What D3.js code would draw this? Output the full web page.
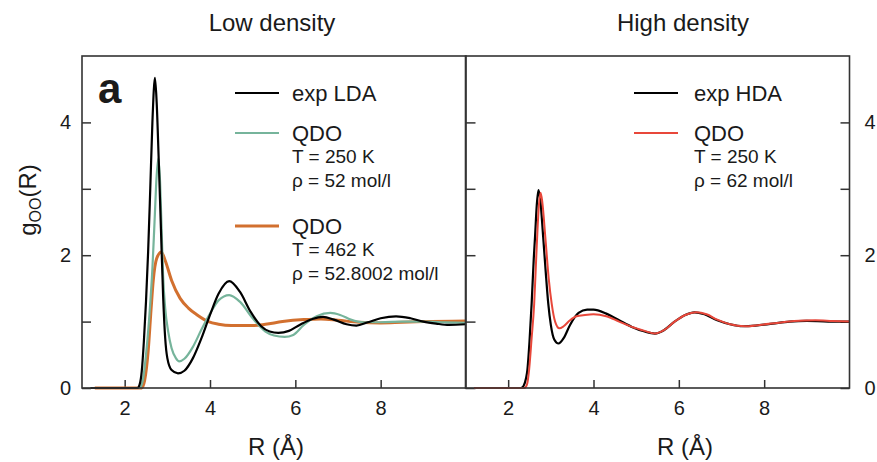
<!DOCTYPE html>
<html><head><meta charset="utf-8">
<script src="https://cdn.jsdelivr.net/npm/d3@7"></script>
<style>
body{margin:0;background:#fff;}
text{font-family:"Liberation Sans",Arial,Helvetica,sans-serif;fill:#1a1a1a;}
</style></head>
<body><svg id="c" width="877" height="462"></svg>
<script>
// ---- data ----
const panelTitles = ["Low density", "High density"];
const xTickValues = [2, 4, 6, 8];
const yTickValues = [0, 1, 2, 3, 4];
const yTickLabels = [0, 2, 4];

// Low density: experimental LDA
const ldaR = [1.2,2.3,2.35,2.4,2.45,2.5,2.55,2.6,2.65,2.71,2.75,2.8,2.85,2.9,2.95,3.0,3.1,3.25,3.4,3.6,3.8,4.0,4.2,4.45,4.7,4.95,5.2,5.4,5.6,5.85,6.1,6.4,6.65,6.9,7.2,7.43,7.7,8.0,8.36,8.7,9.0,9.3,9.6,10];
const ldaG = [0,0,0.05,0.25,0.7,1.3,2.05,3.0,4.0,4.67,4.3,3.4,2.4,1.4,0.75,0.45,0.27,0.22,0.26,0.45,0.75,1.1,1.42,1.61,1.45,1.15,0.93,0.85,0.83,0.86,0.95,1.04,1.07,1.03,0.96,0.94,0.99,1.05,1.08,1.05,1.0,0.97,0.95,0.96];
// Low density: QDO T=250 K, 52 mol/l
const qdo250R = [1.2,2.35,2.42,2.5,2.58,2.65,2.7,2.75,2.79,2.83,2.87,2.9,2.95,3.02,3.1,3.2,3.28,3.4,3.6,3.8,4.0,4.2,4.45,4.7,5.0,5.3,5.5,5.75,5.95,6.2,6.5,6.82,7.05,7.3,7.6,8.0,8.5,9.0,9.5,10];
const qdo250G = [0,0,0.1,0.5,1.1,1.8,2.5,3.2,3.46,3.1,2.3,1.7,1.2,0.85,0.6,0.45,0.4,0.44,0.62,0.88,1.12,1.32,1.40,1.3,1.05,0.85,0.79,0.77,0.8,0.95,1.08,1.13,1.1,1.03,0.99,0.99,1.0,1.0,0.99,0.98];
// Low density: QDO T=462 K, 52.8002 mol/l
const qdo462R = [1.3,2.4,2.47,2.55,2.62,2.67,2.75,2.86,2.95,3.1,3.3,3.5,3.7,3.96,4.2,4.5,5.0,5.3,5.7,6.2,6.6,7.0,7.5,8.0,8.5,9.0,10];
const qdo462G = [0,0,0.12,0.55,1.2,1.62,1.95,2.05,1.92,1.62,1.35,1.2,1.1,1.0,0.96,0.94,0.94,0.96,1.0,1.03,1.04,1.02,0.99,0.98,0.99,1.0,1.01];
// High density: experimental HDA
const hdaR = [1.2,2.3,2.36,2.42,2.45,2.5,2.55,2.6,2.63,2.67,2.71,2.75,2.82,2.88,2.94,3.0,3.08,3.18,3.3,3.45,3.65,3.85,4.0,4.3,4.6,4.9,5.2,5.44,5.65,5.9,6.15,6.37,6.6,6.9,7.2,7.5,7.8,8.2,8.6,9.0,9.5,10];
const hdaG = [0,0,0.03,0.15,0.27,0.7,1.27,1.95,2.28,2.75,2.98,2.85,2.28,1.75,1.27,0.95,0.73,0.67,0.75,0.95,1.13,1.18,1.18,1.12,1.02,0.92,0.85,0.82,0.87,1.0,1.1,1.14,1.11,1.02,0.96,0.93,0.94,0.97,1.0,1.01,1.0,1.0];
// High density: QDO T=250 K, 62 mol/l
const qdoHR = [1.2,2.38,2.44,2.49,2.55,2.61,2.65,2.68,2.72,2.76,2.8,2.87,2.95,3.02,3.1,3.2,3.3,3.45,3.6,3.8,4.0,4.3,4.6,4.9,5.2,5.44,5.65,5.9,6.15,6.4,6.65,6.9,7.2,7.55,7.9,8.3,8.7,9.2,9.6,10];
const qdoHG = [0,0,0.05,0.27,0.75,1.27,1.85,2.28,2.75,2.94,2.8,2.28,1.65,1.27,1.0,0.9,0.93,1.02,1.08,1.1,1.11,1.08,1.0,0.92,0.86,0.82,0.87,1.0,1.1,1.14,1.11,1.03,0.96,0.93,0.95,0.98,1.01,1.02,1.01,1.0];

const legendLeft = [
  {name:"exp LDA", sub:[], color:"#000000", w:2.2},
  {name:"QDO", sub:["T = 250 K","ρ = 52 mol/l"], color:"#76b49b", w:2.2},
  {name:"QDO", sub:["T = 462 K","ρ = 52.8002 mol/l"], color:"#d2702f", w:3}
];
const legendRight = [
  {name:"exp HDA", sub:[], color:"#000000", w:2.2},
  {name:"QDO", sub:["T = 250 K","ρ = 62 mol/l"], color:"#e8473a", w:2.2}
];

// ---- drawing ----
const svg = d3.select("#c");
const plotTop = 56, plotBottom = 388;
const panels = [{x0:82, x1:466}, {x0:465.5, x1:849.5}];
const y = d3.scaleLinear().domain([0,5]).range([plotBottom, plotTop]);
const axisColor = "#333";
const tickFont = 20;

function zip(R,G){return R.map((r,i)=>[r,G[i]]);}

panels.forEach((p,pi)=>{
  const x = d3.scaleLinear().domain([1,10]).range([p.x0,p.x1]);
  const g = svg.append("g");
  const clipId = "clip"+pi;
  svg.append("clipPath").attr("id",clipId).append("rect")
    .attr("x",p.x0).attr("y",plotTop).attr("width",p.x1-p.x0).attr("height",plotBottom-plotTop+2);

  const xa = d3.axisBottom(x).tickValues(xTickValues).tickSize(-8).tickPadding(13).tickFormat(d3.format("d"));
  const gx = g.append("g").attr("transform",`translate(0,${plotBottom})`).call(xa);
  gx.select(".domain").remove();
  gx.selectAll("line").attr("stroke",axisColor).attr("stroke-width",1.5);
  gx.selectAll("text").attr("font-size",tickFont).style("fill","#1a1a1a").attr("font-family","Liberation Sans, Arial, sans-serif");

  if(pi===0){
    const ya = d3.axisLeft(y).tickValues(yTickValues).tickSize(-9).tickPadding(11)
      .tickFormat(d=> yTickLabels.includes(d)? d : "");
    const gy = g.append("g").attr("transform",`translate(${p.x0},0)`).call(ya);
    gy.select(".domain").remove();
    gy.selectAll("line").attr("stroke",axisColor).attr("stroke-width",1.5);
    gy.selectAll("text").attr("font-size",tickFont).style("fill","#1a1a1a").attr("font-family","Liberation Sans, Arial, sans-serif");
  } else {
    const ya = d3.axisRight(y).tickValues(yTickValues).tickSize(-9).tickPadding(15)
      .tickFormat(d=> yTickLabels.includes(d)? d : "");
    const gy = g.append("g").attr("transform",`translate(${p.x1},0)`).call(ya);
    gy.select(".domain").remove();
    gy.selectAll("line").attr("stroke",axisColor).attr("stroke-width",1.5);
    gy.selectAll("text").attr("font-size",tickFont).style("fill","#1a1a1a").attr("font-family","Liberation Sans, Arial, sans-serif");
    const yl = d3.axisRight(y).tickValues(yTickValues).tickSize(10).tickFormat("");
    const gyl = g.append("g").attr("transform",`translate(${p.x0},0)`).call(yl);
    gyl.select(".domain").remove();
    gyl.selectAll("line").attr("stroke",axisColor).attr("stroke-width",1.5);
  }

  const line = d3.line().x(d=>x(d[0])).y(d=>y(d[1])).curve(d3.curveMonotoneX);
  const series = pi===0
    ? [[qdo462R,qdo462G,"#d2702f",3],[qdo250R,qdo250G,"#76b49b",2.2],[ldaR,ldaG,"#000",2.2]]
    : [[hdaR,hdaG,"#000",2.2],[qdoHR,qdoHG,"#e8473a",2]];
  const cg = g.append("g").attr("clip-path",`url(#${clipId})`);
  series.forEach(s=>{
    cg.append("path").datum(zip(s[0],s[1])).attr("d",line)
      .attr("fill","none").attr("stroke",s[2]).attr("stroke-width",s[3]).attr("stroke-linejoin","round");
  });

  g.append("rect").attr("x",p.x0).attr("y",plotTop).attr("width",p.x1-p.x0).attr("height",plotBottom-plotTop)
    .attr("fill","none").attr("stroke",axisColor).attr("stroke-width",1.6);

  svg.append("text").attr("x", pi===0?272:683).attr("y",31).attr("text-anchor","middle")
    .attr("font-size",24).text(panelTitles[pi]);
  svg.append("text").attr("x", pi===0?276:685).attr("y",455).attr("text-anchor","middle")
    .attr("font-size",24).text("R (Å)");

  const leg = pi===0? legendLeft : legendRight;
  const lx0 = pi===0? 235 : 634, lx1 = pi===0? 279 : 678, tx = pi===0? 292 : 694;
  const ys = pi===0? [93,133,226] : [93,133];
  leg.forEach((l,i)=>{
    svg.append("line").attr("x1",lx0).attr("x2",lx1).attr("y1",ys[i]).attr("y2",ys[i])
      .attr("stroke",l.color).attr("stroke-width",l.w);
    svg.append("text").attr("x",tx).attr("y",ys[i]+8).attr("font-size",22).text(l.name);
    l.sub.forEach((s,j)=>{
      svg.append("text").attr("x",tx).attr("y",ys[i]+30+j*24).attr("font-size",19).text(s);
    });
  });
});

const ylab = svg.append("text").attr("transform","translate(36,200) rotate(-90)")
  .attr("text-anchor","middle").attr("font-size",24);
ylab.append("tspan").text("g");
ylab.append("tspan").attr("font-size",16).attr("dy",5).text("OO");
ylab.append("tspan").attr("dy",-5).text("(R)");

svg.append("text").attr("x",98).attr("y",103).attr("font-size",42).attr("font-weight","bold").text("a");
</script></body></html>
